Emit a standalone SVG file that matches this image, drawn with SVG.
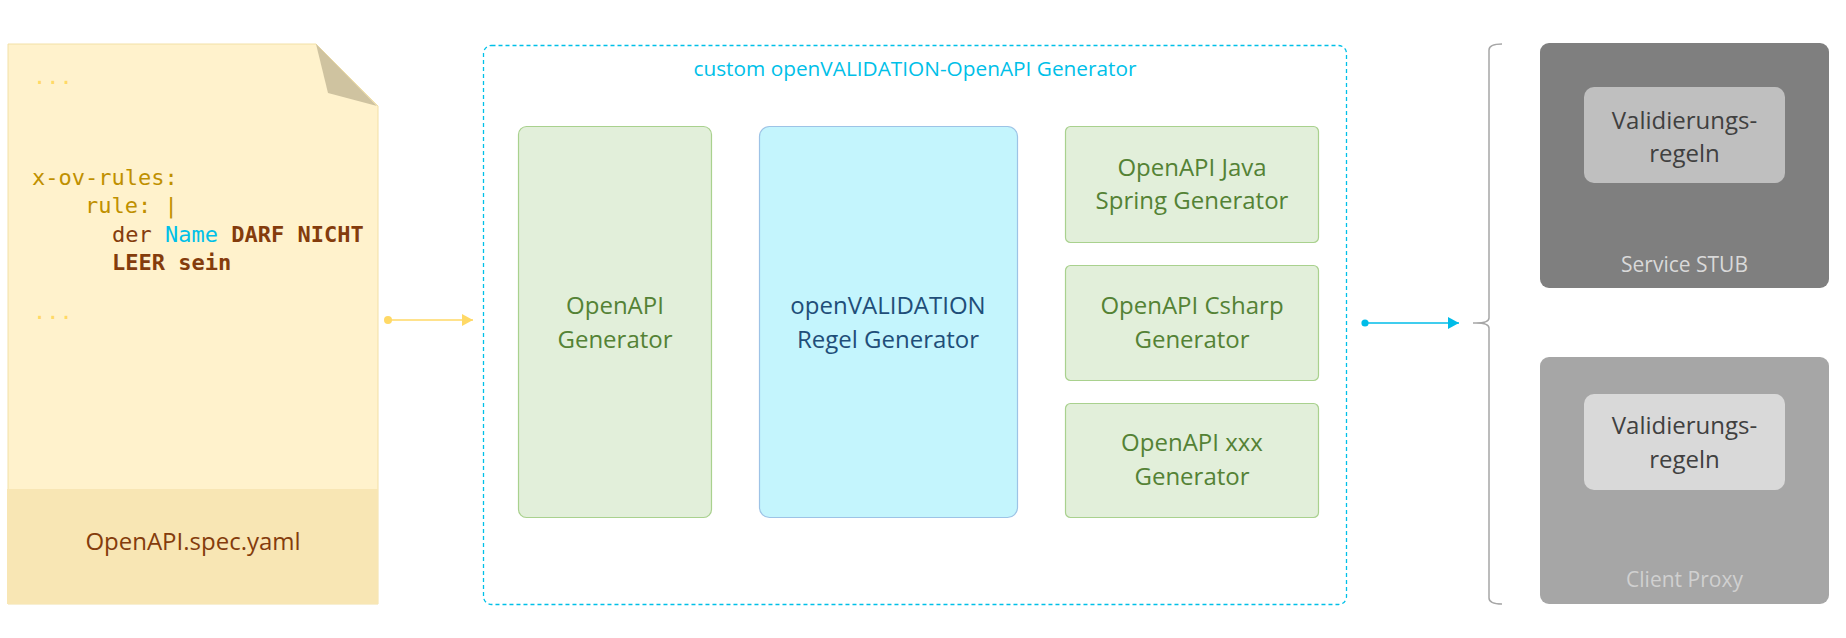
<svg xmlns="http://www.w3.org/2000/svg" width="1846" height="638" viewBox="0 0 1846 638">
<style>
.sans{font-family:"Open Sans","Noto Sans","DejaVu Sans",sans-serif;}
.mono{font-family:"DejaVu Sans Mono","Liberation Mono",monospace;font-size:22px;}
.gbox{fill:#E2EFDA;stroke:#A9D18E;stroke-width:1.2;}
.gtxt{fill:#548235;font-size:24px;text-anchor:middle;}
.vtxt{fill:#404040;font-size:24px;text-anchor:middle;}
.lbl{font-size:21px;text-anchor:middle;}
</style>
<defs>
<marker id="arrY" markerUnits="userSpaceOnUse" markerWidth="12" markerHeight="12" refX="11" refY="6" orient="auto"><path d="M0,0 L11,6 L0,12 Z" fill="#FFD966"/></marker>
<marker id="dotY" markerUnits="userSpaceOnUse" markerWidth="10" markerHeight="10" refX="5" refY="5"><circle cx="5" cy="5" r="4" fill="#FFD966"/></marker>
<marker id="arrC" markerUnits="userSpaceOnUse" markerWidth="12" markerHeight="12" refX="11" refY="6" orient="auto"><path d="M0,0 L11,6 L0,12 Z" fill="#00BCE8"/></marker>
<marker id="dotC" markerUnits="userSpaceOnUse" markerWidth="10" markerHeight="10" refX="5" refY="5"><circle cx="5" cy="5" r="3.6" fill="#00BCE8"/></marker>
</defs>
<rect width="1846" height="638" fill="#FFFFFF"/>

<g id="spec-doc">
<polygon points="8,44 316,44 378,106 378,604 8,604" fill="#FFF2CC" stroke="#F2E0A6" stroke-width="1"/>
<rect x="7" y="489" width="371" height="115" fill="#F8E6B4"/>
<polygon points="316,44 328,93 377,106" fill="#CFC3A0"/>
<text class="mono" x="33" y="84" fill="#FFD966">...</text>
<text class="mono" x="32" y="185" fill="#BF9000">x-ov-rules:</text>
<text class="mono" x="85" y="213" fill="#BF9000">rule: |</text>
<text class="mono" x="112" y="242" fill="#843C0C">der <tspan fill="#00C0E8">Name</tspan> <tspan font-weight="bold">DARF NICHT</tspan></text>
<text class="mono" x="112" y="270" fill="#843C0C" font-weight="bold">LEER sein</text>
<text class="mono" x="33" y="319" fill="#FFD966">...</text>
<text class="sans" x="193" y="550" font-size="24" text-anchor="middle" fill="#843C0C">OpenAPI.spec.yaml</text>
</g>

<g id="generator-container">
<rect x="483.5" y="45.5" width="863" height="559" rx="8" fill="none" stroke="#00C0E8" stroke-width="1.3" stroke-dasharray="4,3"/>
<text class="sans" x="915" y="76" font-size="20.8" text-anchor="middle" fill="#00C0E8">custom openVALIDATION-OpenAPI Generator</text>
</g>

<g id="openapi-generator">
<rect class="gbox" x="518.5" y="126.5" width="193" height="391" rx="8"/>
<text class="sans gtxt" x="615" y="314">OpenAPI</text>
<text class="sans gtxt" x="615" y="348">Generator</text>
</g>

<g id="regel-generator">
<rect x="759.5" y="126.5" width="258" height="391" rx="10" fill="#C4F5FD" stroke="#9DC3E6" stroke-width="1.2"/>
<text class="sans" x="888" y="314" font-size="24" text-anchor="middle" fill="#1F4E79">openVALIDATION</text>
<text class="sans" x="888" y="348" font-size="24" text-anchor="middle" fill="#1F4E79">Regel Generator</text>
</g>

<g id="java-spring-generator">
<rect class="gbox" x="1065.5" y="126.5" width="253" height="116" rx="5"/>
<text class="sans gtxt" x="1192" y="176">OpenAPI Java</text>
<text class="sans gtxt" x="1192" y="209">Spring Generator</text>
</g>

<g id="csharp-generator">
<rect class="gbox" x="1065.5" y="265.5" width="253" height="115" rx="5"/>
<text class="sans gtxt" x="1192" y="314">OpenAPI Csharp</text>
<text class="sans gtxt" x="1192" y="348">Generator</text>
</g>

<g id="xxx-generator">
<rect class="gbox" x="1065.5" y="403.5" width="253" height="114" rx="5"/>
<text class="sans gtxt" x="1192" y="451">OpenAPI xxx</text>
<text class="sans gtxt" x="1192" y="485">Generator</text>
</g>

<g id="service-stub">
<rect x="1540" y="43" width="289" height="245" rx="9" fill="#7F7F7F"/>
<rect x="1584" y="87" width="201" height="96" rx="10" fill="#BFBFBF"/>
<text class="sans vtxt" x="1684.5" y="129">Validierungs-</text>
<text class="sans vtxt" x="1684.5" y="162">regeln</text>
<text class="sans lbl" x="1684.5" y="272" fill="#D9D9D9">Service STUB</text>
</g>

<g id="client-proxy">
<rect x="1540" y="357" width="289" height="247" rx="9" fill="#A6A6A6"/>
<rect x="1584" y="394" width="201" height="96" rx="10" fill="#D9D9D9"/>
<text class="sans vtxt" x="1684.5" y="434">Validierungs-</text>
<text class="sans vtxt" x="1684.5" y="468">regeln</text>
<text class="sans lbl" x="1684.5" y="587" fill="#D0D0D0">Client Proxy</text>
</g>

<g id="connectors">
<line x1="388" y1="320" x2="473" y2="320" stroke="#FFD966" stroke-width="1.3" marker-start="url(#dotY)" marker-end="url(#arrY)"/>
<line x1="1365" y1="323" x2="1459" y2="323" stroke="#00BCE8" stroke-width="1.3" marker-start="url(#dotC)" marker-end="url(#arrC)"/>
<path d="M1502,44 Q1489,44 1489,50 L1489,318 Q1489,323 1476,323 L1473,323 M1476,323 Q1489,323 1489,328 L1489,598 Q1489,604 1502,604" fill="none" stroke="#A6A6A6" stroke-width="1.5"/>
</g>
</svg>
